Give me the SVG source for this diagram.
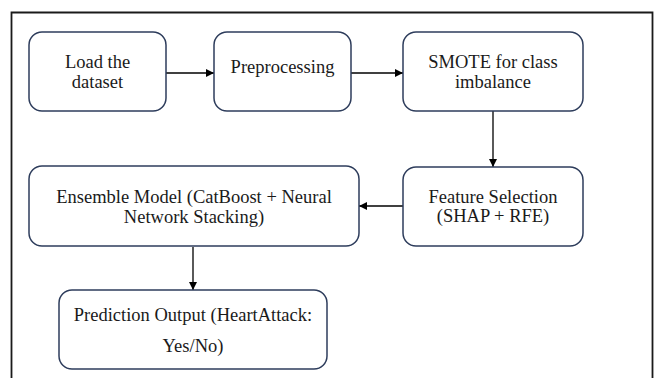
<svg xmlns="http://www.w3.org/2000/svg" width="654" height="378" viewBox="0 0 654 378">
<defs>
<style>
.box{fill:#ffffff;stroke:#2e3d5c;stroke-width:1.5}
.t{font-family:"Liberation Serif","Times New Roman",serif;font-size:18.5px;fill:#1a1a1a;text-anchor:middle}
.c{stroke:#000;stroke-width:1.3;fill:none;marker-end:url(#ah)}
</style>
<marker id="ah" viewBox="0 0 10 10" refX="10" refY="5" markerWidth="8" markerHeight="8" markerUnits="userSpaceOnUse" orient="auto">
<path d="M0,0 L10,5 L0,10 z" fill="#000"/>
</marker>
</defs>
<rect width="654" height="378" fill="#ffffff"/>
<path d="M11.5,380 V12.5 H652.5 V380" fill="none" stroke="#1a1a1a" stroke-width="1.8"/>
<g id="connectors">
<line class="c" x1="166" y1="73" x2="214" y2="73"/>
<line class="c" x1="351" y1="73" x2="403" y2="73"/>
<line class="c" x1="493" y1="111" x2="493" y2="167"/>
<line class="c" x1="403" y1="206" x2="359" y2="206"/>
<line class="c" x1="193" y1="247" x2="193" y2="290"/>
</g>
<g id="load">
<rect class="box" x="29" y="32" width="137" height="79" rx="13"/>
<text class="t" x="97.5" y="67.5">Load the</text>
<text class="t" x="97.5" y="87.5">dataset</text>
</g>
<g id="preprocessing">
<rect class="box" x="214" y="32" width="137" height="79" rx="13"/>
<text class="t" x="282.5" y="73">Preprocessing</text>
</g>
<g id="smote">
<rect class="box" x="403" y="32" width="180" height="79" rx="13"/>
<text class="t" x="493" y="67.5">SMOTE for class</text>
<text class="t" x="493" y="87.5">imbalance</text>
</g>
<g id="feature">
<rect class="box" x="403" y="167" width="180" height="79" rx="13"/>
<text class="t" x="493" y="202.5">Feature Selection</text>
<text class="t" x="493" y="222">(SHAP + RFE)</text>
</g>
<g id="ensemble">
<rect class="box" x="29" y="166" width="330" height="80" rx="13"/>
<text class="t" x="194" y="203">Ensemble Model (CatBoost + Neural</text>
<text class="t" x="194" y="223">Network Stacking)</text>
</g>
<g id="prediction">
<rect class="box" x="59" y="290" width="268" height="79" rx="13"/>
<text class="t" x="193" y="321">Prediction Output (HeartAttack:</text>
<text class="t" x="193" y="352">Yes/No)</text>
</g>
</svg>
